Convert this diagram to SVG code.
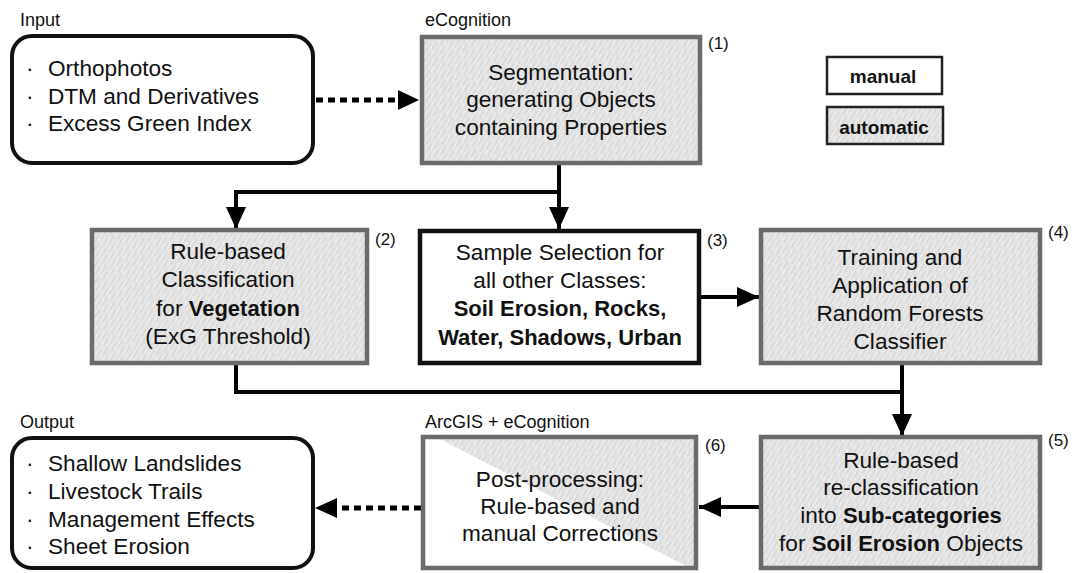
<svg xmlns="http://www.w3.org/2000/svg" width="1074" height="573" viewBox="0 0 1074 573">
<defs>
<pattern id="tex" width="14" height="9" patternUnits="userSpaceOnUse" patternTransform="rotate(-58)">
<rect width="14" height="9" fill="#e3e3e3"/>
<path d="M0 1.5 H9 M5 5.5 H14" stroke="#d2d2d2" stroke-width="0.9"/>
<path d="M2 3.5 H12 M0 7.5 H6" stroke="#f0f0f0" stroke-width="0.9"/>
</pattern>
<marker id="ah" viewBox="0 0 22 20" refX="22" refY="10" markerWidth="22" markerHeight="20" markerUnits="userSpaceOnUse" orient="auto">
<path d="M0 0 L22 10 L0 20 Z" fill="#000"/>
</marker>
</defs>
<style>
text{font-family:"Liberation Sans",Arial,sans-serif;fill:#111;}
.t{font-size:22.6px;text-anchor:middle;}
.l{font-size:22.6px;}
.lab{font-size:18px;}
.num{font-size:17px;}
.b{font-weight:bold;font-size:22px;}
.auto{fill:url(#tex);stroke:#6a6a6a;stroke-width:4.5;}
.man{fill:#fff;stroke:#111;stroke-width:4.5;}
.io{fill:#fff;stroke:#111;stroke-width:4;}
.c{fill:none;stroke:#000;stroke-width:4;}
.d{fill:none;stroke:#000;stroke-width:5;stroke-dasharray:7 5;}
.leg{stroke:#222;stroke-width:2.5;}
</style>
<rect width="1074" height="573" fill="#fff"/>

<g id="connectors">
<path class="d" d="M316 100 H400"/>
<path d="M398 90 L419 100 L398 110 Z" fill="#000"/>
<path class="c" d="M559 165 V229" marker-end="url(#ah)"/>
<path class="c" d="M559 192 H236 V229" marker-end="url(#ah)"/>
<path class="c" d="M700 297 H759" marker-end="url(#ah)"/>
<path class="c" d="M236 365 V392 H902"/>
<path class="c" d="M902 365 V436" marker-end="url(#ah)"/>
<path class="c" d="M760 507 H699" marker-end="url(#ah)"/>
<path class="d" d="M421 508 H335"/>
<path d="M337 498 L315 508 L337 518 Z" fill="#000"/>
</g>

<g id="input">
<text class="lab" x="20" y="26">Input</text>
<rect class="io" x="12" y="36" width="301" height="127" rx="20"/>
<text class="l" x="26" y="76">·<tspan x="48">Orthophotos</tspan></text>
<text class="l" x="26" y="104">·<tspan x="48">DTM and Derivatives</tspan></text>
<text class="l" x="26" y="131">·<tspan x="48">Excess Green Index</tspan></text>
</g>

<g id="n1">
<text class="lab" x="425" y="26">eCognition</text>
<rect class="auto" x="422" y="37" width="278" height="126"/>
<text class="num" x="708" y="49">(1)</text>
<text class="t" x="561" y="80">Segmentation:</text>
<text class="t" x="561" y="107">generating Objects</text>
<text class="t" x="561" y="135">containing Properties</text>
</g>

<g id="legend">
<g id="legend-manual">
<rect class="leg" x="827" y="57" width="115" height="37" fill="#fff"/>
<text x="883" y="83" font-size="19" font-weight="bold" text-anchor="middle">manual</text>
</g>
<g id="legend-automatic">
<rect class="leg" x="827" y="107" width="116" height="37" fill="url(#tex)"/>
<text x="884" y="134" font-size="19" font-weight="bold" text-anchor="middle">automatic</text>
</g>
</g>

<g id="n2">
<rect class="auto" x="92" y="230" width="275" height="133"/>
<text class="num" x="375" y="245">(2)</text>
<text class="t" x="228" y="259">Rule-based</text>
<text class="t" x="228" y="287">Classification</text>
<text class="t" x="228" y="316">for <tspan class="b">Vegetation</tspan></text>
<text class="t" x="228" y="344">(ExG Threshold)</text>
</g>

<g id="n3">
<rect class="man" x="420" y="231" width="279" height="132"/>
<text class="num" x="707" y="246">(3)</text>
<text class="t" x="560" y="260">Sample Selection for</text>
<text class="t" x="560" y="288">all other Classes:</text>
<text class="t b" x="560" y="316">Soil Erosion, Rocks,</text>
<text class="t b" x="560" y="345">Water, Shadows, Urban</text>
</g>

<g id="n4">
<rect class="auto" x="761" y="230" width="279" height="133"/>
<text class="num" x="1048" y="238">(4)</text>
<text class="t" x="900" y="265">Training and</text>
<text class="t" x="900" y="293">Application of</text>
<text class="t" x="900" y="321">Random Forests</text>
<text class="t" x="900" y="349">Classifier</text>
</g>

<g id="n5">
<rect class="auto" x="761" y="437" width="279" height="131"/>
<text class="num" x="1048" y="446">(5)</text>
<text class="t" x="901" y="468">Rule-based</text>
<text class="t" x="901" y="495">re-classification</text>
<text class="t" x="901" y="523">into <tspan class="b">Sub-categories</tspan></text>
<text class="t" x="901" y="551">for <tspan class="b">Soil Erosion</tspan> Objects</text>
</g>

<g id="n6">
<text class="lab" x="425" y="428">ArcGIS + eCognition</text>
<rect x="423" y="437" width="273" height="131" fill="#fff"/>
<polygon points="436,437 696,437 696,568 690,568" fill="url(#tex)"/>
<rect x="423" y="437" width="273" height="131" fill="none" stroke="#6a6a6a" stroke-width="4.5"/>
<text class="num" x="705" y="451">(6)</text>
<text class="t" x="560" y="487">Post-processing:</text>
<text class="t" x="560" y="514">Rule-based and</text>
<text class="t" x="560" y="541">manual Corrections</text>
</g>

<g id="output">
<text class="lab" x="20" y="428">Output</text>
<rect class="io" x="12" y="438" width="301" height="130" rx="20"/>
<text class="l" x="26" y="471">·<tspan x="48">Shallow Landslides</tspan></text>
<text class="l" x="26" y="499">·<tspan x="48">Livestock Trails</tspan></text>
<text class="l" x="26" y="527">·<tspan x="48">Management Effects</tspan></text>
<text class="l" x="26" y="554">·<tspan x="48">Sheet Erosion</tspan></text>
</g>
</svg>
